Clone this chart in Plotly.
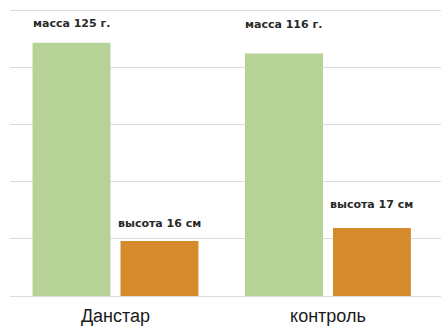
import plotly.graph_objects as go

categories = ["Данстар", "контроль"]
mass_values = [4.43, 4.24]      # bar heights (grid units) for mass
height_values = [0.96, 1.19]    # bar heights (grid units) for height
mass_labels = ["масса 125 г.", "масса 116 г."]
height_labels = ["высота 16 см", "высота 17 см"]

GREEN = "#b7d296"
ORANGE = "#d58b2c"

fig = go.Figure()
fig.add_trace(go.Bar(x=categories, y=mass_values, marker_color=GREEN,
                     marker_line_width=0, name="масса"))
fig.add_trace(go.Bar(x=categories, y=height_values, marker_color=ORANGE,
                     marker_line_width=0, name="высота"))

mass_shift = [19, 29]
height_shift = [18, 23]
font_lbl = dict(family="DejaVu Sans, sans-serif", size=11, color="#2a2a2a", weight="bold")
for i, c in enumerate(categories):
    fig.add_annotation(x=c, y=mass_values[i], text=mass_labels[i], showarrow=False,
                       xshift=-44, yshift=mass_shift[i], yanchor="middle", font=font_lbl)
    fig.add_annotation(x=c, y=height_values[i], text=height_labels[i], showarrow=False,
                       xshift=44, yshift=height_shift[i], yanchor="middle", font=font_lbl)

fig.update_layout(
    width=441, height=326,
    margin=dict(l=10, r=0, t=8.5, b=30),
    paper_bgcolor="white", plot_bgcolor="white",
    barmode="group", bargap=0.172, bargroupgap=0.114,
    showlegend=False,
    xaxis=dict(range=[-0.4965, 1.532], showgrid=False, zeroline=False, showline=False,
               ticks="", ticklabelstandoff=7,
               tickfont=dict(family="Liberation Sans, Arial, sans-serif", size=18, color="#1a1a1a")),
    yaxis=dict(range=[0, 5.02], tickvals=[0, 1, 2, 3, 4, 5], showticklabels=False, showgrid=True,
               gridcolor="#dcdcdc", gridwidth=1, zeroline=True, zerolinecolor="#dcdcdc",
               zerolinewidth=1, showline=False, ticks=""),
)
fig.write_html("out.html")
